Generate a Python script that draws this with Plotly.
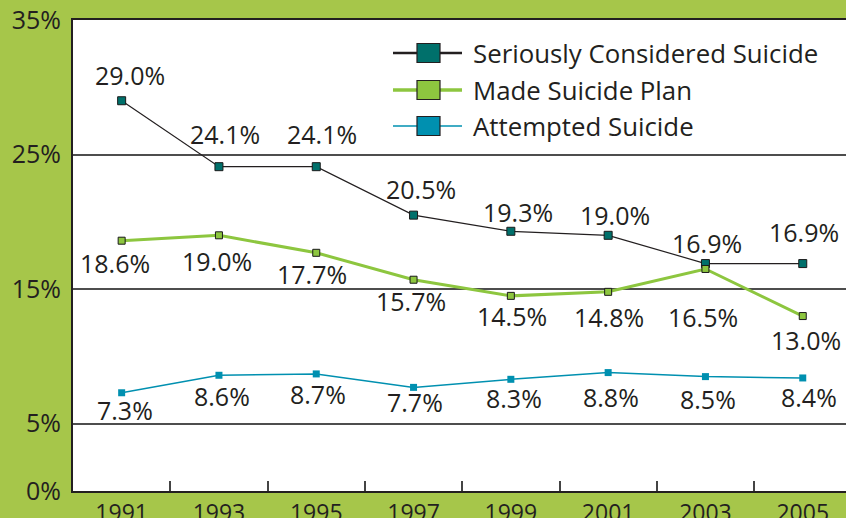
import plotly.graph_objects as go

years = [1991, 1993, 1995, 1997, 1999, 2001, 2003, 2005]
seriously_considered = [29.0, 24.1, 24.1, 20.5, 19.3, 19.0, 16.9, 16.9]
made_plan = [18.6, 19.0, 17.7, 15.7, 14.5, 14.8, 16.5, 13.0]
attempted = [7.3, 8.6, 8.7, 7.7, 8.3, 8.8, 8.5, 8.4]

series_names = ["Seriously Considered Suicide", "Made Suicide Plan", "Attempted Suicide"]
y_tick_values = [0, 5, 15, 25, 35]
y_tick_labels = ["0%", "5%", "15%", "25%", "35%"]

# label pixel offsets (style, not data)
off_sc = [(8, 26), (6, 33), (6, 33), (7, 26), (7, 19), (7, 20), (2, 21), (1, 32)]
off_mp = [(-7, -22), (-2, -26), (-4, -21), (-3, -21), (1, -20), (1, -25), (-2, -48), (3, -24)]
off_at = [(3, -17), (3, -21), (2, -20), (1, -15), (3, -19), (3, -24), (3, -22), (6, -19)]

FONT = "Open Sans"
TXT = "#231F20"
GREEN_BG = "#A6C64A"
C_SC = "#00706B"
C_MP = "#8DC63F"
C_AT = "#0090B0"

W, H = 846, 518
L, T, B = 73, 20, 27
plot_w = W - L
plot_h = H - T - B
px_per_2yr = 97.3
x_end = 1990 + plot_w / (px_per_2yr / 2)

fig = go.Figure()
fig.add_trace(go.Scatter(x=years, y=seriously_considered, mode="lines+markers", name=series_names[0],
                         line=dict(color="#231F20", width=1.2),
                         marker=dict(symbol="square", size=8, color=C_SC, line=dict(color="#1a1a1a", width=1))))
fig.add_trace(go.Scatter(x=years, y=made_plan, mode="lines+markers", name=series_names[1],
                         line=dict(color=C_MP, width=3),
                         marker=dict(symbol="square", size=7, color=C_MP, line=dict(color="#1a1a1a", width=1))))
fig.add_trace(go.Scatter(x=years, y=attempted, mode="lines+markers", name=series_names[2],
                         line=dict(color=C_AT, width=1.5),
                         marker=dict(symbol="square", size=7, color=C_AT, line=dict(color=C_AT, width=0))))

annotations = []
for vals, offs in [(seriously_considered, off_sc), (made_plan, off_mp), (attempted, off_at)]:
    for xv, yv, (dx, dy) in zip(years, vals, offs):
        annotations.append(dict(x=xv, y=yv, xref="x", yref="y", text=f"{yv:.1f}%", showarrow=False,
                                xshift=dx, yshift=dy, font=dict(family=FONT, size=25, color=TXT)))

# manual legend
def px2x(px):
    return (px - L) / plot_w

def px2y(py):
    return (T + plot_h - py) / plot_h

shapes = []
leg_rows = [53, 90, 126]
leg_line = [("#231F20", 2.5, C_SC), (C_MP, 3.5, C_MP), (C_AT, 1.5, C_AT)]
for name, yy, (lc, lw, fc) in zip(series_names, leg_rows, leg_line):
    shapes.append(dict(type="line", xref="paper", yref="paper", x0=px2x(393), x1=px2x(462),
                       y0=px2y(yy), y1=px2y(yy), line=dict(color=lc, width=lw), layer="above"))
    shapes.append(dict(type="rect", xref="paper", yref="paper", x0=px2x(417), x1=px2x(440),
                       y0=px2y(yy + 9.5), y1=px2y(yy - 9.5), fillcolor=fc,
                       line=dict(color="#231F20", width=1.2), layer="above"))
    annotations.append(dict(x=px2x(471), y=px2y(yy), xref="paper", yref="paper", text=name,
                            showarrow=False, xanchor="left", yanchor="middle",
                            font=dict(family=FONT, size=25.8, color=TXT)))

fig.update_layout(
    width=W, height=H,
    margin=dict(l=L, r=0, t=T, b=B, pad=0, autoexpand=False),
    paper_bgcolor=GREEN_BG, plot_bgcolor="white",
    showlegend=False,
    font=dict(family=FONT, size=25, color=TXT),
    annotations=annotations, shapes=shapes,
)
fig.update_xaxes(range=[1990, x_end], tickvals=years, ticktext=[str(y) for y in years],
                 ticks="", showgrid=False, zeroline=False, automargin=False,
                 showline=True, mirror=True, linecolor="#231F20", linewidth=2.2,
                 tickfont=dict(family=FONT, size=23, color=TXT),
                 minor=dict(tickvals=[1992, 1994, 1996, 1998, 2000, 2002, 2004], ticks="inside",
                            ticklen=10, tickwidth=1.5, tickcolor="#444", showgrid=False))
fig.update_yaxes(range=[0, 35], tickvals=y_tick_values, ticktext=y_tick_labels,
                 showgrid=True, gridcolor="#4D4D4D", gridwidth=1.5, zeroline=False, automargin=False,
                 showline=True, linecolor="#231F20", linewidth=2, ticks="",
                 ticklabelstandoff=5,
                 tickfont=dict(family=FONT, size=25, color=TXT))

fig.write_html("out.html", config={"displayModeBar": False},
               post_script="document.body.style.margin='0';document.body.style.overflow='hidden';")
